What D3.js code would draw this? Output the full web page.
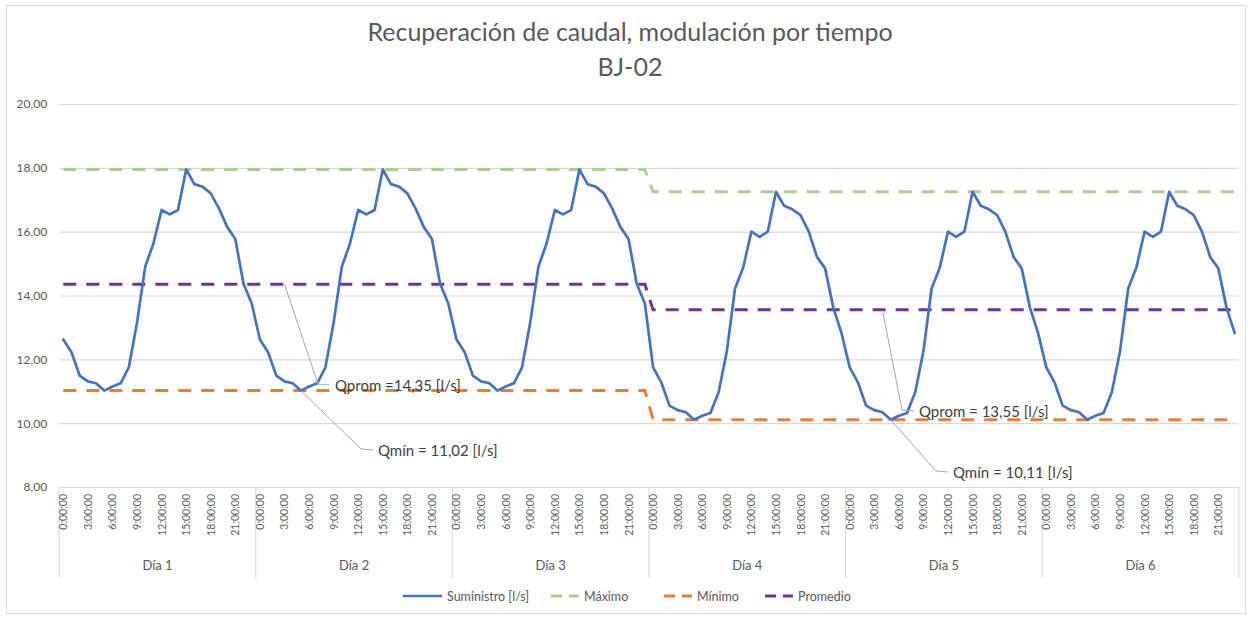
<!DOCTYPE html>
<html>
<head>
<meta charset="utf-8">
<script src="https://cdn.jsdelivr.net/npm/d3@7"></script>
<style>
  html, body { margin: 0; padding: 0; background: #fff; }
  svg { display: block; font-family: Lato, "Open Sans", "Noto Sans", sans-serif; }
</style>
</head>
<body>
<svg id="chart" width="1250" height="617"></svg>
<script>
// ---- Datos ----
const dias = ["Día 1", "Día 2", "Día 3", "Día 4", "Día 5", "Día 6"];
const horas = ["0:00:00", "1:00:00", "2:00:00", "3:00:00", "4:00:00", "5:00:00",
  "6:00:00", "7:00:00", "8:00:00", "9:00:00", "10:00:00", "11:00:00",
  "12:00:00", "13:00:00", "14:00:00", "15:00:00", "16:00:00", "17:00:00",
  "18:00:00", "19:00:00", "20:00:00", "21:00:00", "22:00:00", "23:00:00"];
const horasEtiquetadas = ["0:00:00", "3:00:00", "6:00:00", "9:00:00",
  "12:00:00", "15:00:00", "18:00:00", "21:00:00"];

// Suministro [l/s], un valor por hora
const suministroDia1 = [12.62, 12.22, 11.49, 11.31, 11.25, 11.02, 11.15, 11.25, 11.75, 13.15, 14.90, 15.63,
  16.68, 16.54, 16.68, 17.95, 17.49, 17.41, 17.20, 16.73, 16.15, 15.77, 14.37, 13.75];
const suministroDia2 = [12.62, 12.22, 11.49, 11.31, 11.25, 11.02, 11.15, 11.25, 11.75, 13.15, 14.90, 15.63,
  16.68, 16.54, 16.68, 17.95, 17.49, 17.41, 17.20, 16.73, 16.15, 15.77, 14.37, 13.75];
const suministroDia3 = [12.62, 12.22, 11.49, 11.31, 11.25, 11.02, 11.15, 11.25, 11.75, 13.15, 14.90, 15.63,
  16.68, 16.54, 16.68, 17.95, 17.49, 17.41, 17.20, 16.73, 16.15, 15.77, 14.37, 13.75];
const suministroDia4 = [11.75, 11.28, 10.55, 10.41, 10.34, 10.11, 10.23, 10.32, 10.97, 12.25, 14.22, 14.88,
  16.00, 15.84, 16.00, 17.25, 16.81, 16.70, 16.52, 16.00, 15.21, 14.85, 13.62, 12.82];
const suministroDia5 = [11.75, 11.28, 10.55, 10.41, 10.34, 10.11, 10.23, 10.32, 10.97, 12.25, 14.22, 14.88,
  16.00, 15.84, 16.00, 17.25, 16.81, 16.70, 16.52, 16.00, 15.21, 14.85, 13.62, 12.82];
const suministroDia6 = [11.75, 11.28, 10.55, 10.41, 10.34, 10.11, 10.23, 10.32, 10.97, 12.25, 14.22, 14.88,
  16.00, 15.84, 16.00, 17.25, 16.81, 16.70, 16.52, 16.00, 15.21, 14.85, 13.62, 12.82];

// Valores de referencia por día
const maximoPorDia   = [17.95, 17.95, 17.95, 17.25, 17.25, 17.25];
const minimoPorDia   = [11.02, 11.02, 11.02, 10.11, 10.11, 10.11];
const promedioPorDia = [14.35, 14.35, 14.35, 13.55, 13.55, 13.55];

const valoresEjeY = [8, 10, 12, 14, 16, 18, 20];

const nombresSeries = ["Suministro [l/s]", "Máximo", "Mínimo", "Promedio"];

// Rótulos: serie, índice horario del punto señalado y texto
const rotulos = [
  { serie: "promedio", indice: 27,  texto: "Qprom =14,35 [l/s]" },
  { serie: "minimo",   indice: 29,  texto: "Qmín = 11,02 [l/s]" },
  { serie: "promedio", indice: 100, texto: "Qprom = 13,55 [l/s]" },
  { serie: "minimo",   indice: 101, texto: "Qmín = 10,11 [l/s]" }
];

// ---- Diseño ----
const W = 1250, H = 617;
const plot = { left: 59.2, right: 1238.8, top: 104, bottom: 487 };
const ejeCatFondo = 578;
const colores = { suministro: "#4472C4", maximo: "#A9D18E", minimo: "#ED7D31", promedio: "#7030A0" };
const gris = "#D9D9D9", texto = "#595959";
const posRotulos = [[335, 385], [378, 450], [919, 411], [953, 472]];
const legendaX = [403, 551, 664, 765];
const legendaY = 596;

const suministroPorDia = [suministroDia1, suministroDia2, suministroDia3, suministroDia4, suministroDia5, suministroDia6];
const filas = [];
dias.forEach((dia, d) => {
  horas.forEach((hora, h) => {
    filas.push({
      i: d * horas.length + h, dia, hora,
      suministro: suministroPorDia[d][h],
      maximo: maximoPorDia[d],
      minimo: minimoPorDia[d],
      promedio: promedioPorDia[d]
    });
  });
});

const svg = d3.select("#chart");
svg.append("rect").attr("x", 0).attr("y", 0).attr("width", W).attr("height", H).attr("fill", "#fff");
svg.append("rect").attr("x", 6.5).attr("y", 5.5).attr("width", W - 11).attr("height", H - 9)
  .attr("fill", "none").attr("stroke", gris).attr("stroke-width", 1);

const x = d3.scaleBand().domain(filas.map(f => f.i)).range([plot.left, plot.right]).padding(0);
const cx = i => x(i) + x.bandwidth() / 2;
const y = d3.scaleLinear().domain([8, 20]).range([plot.bottom, plot.top]);

const loc = d3.formatLocale({ decimal: ",", thousands: ".", grouping: [3], currency: ["", "€"] });
const fmt = loc.format(".2f");

// Título
const titulo = svg.append("text").attr("x", 630).attr("text-anchor", "middle")
  .attr("fill", texto).attr("font-size", 25);
titulo.append("tspan").attr("x", 630).attr("y", 41).text("Recuperación de caudal, modulación por tiempo");
titulo.append("tspan").attr("x", 630).attr("y", 76).text("BJ-02");

// Eje Y con líneas de cuadrícula
const ejeY = d3.axisLeft(y).tickValues(valoresEjeY).tickFormat(fmt)
  .tickSize(-(plot.right - plot.left)).tickPadding(12);
const gY = svg.append("g").attr("transform", `translate(${plot.left},0)`).call(ejeY);
gY.select(".domain").remove();
gY.selectAll(".tick line").attr("stroke", gris).attr("stroke-width", 1.2);
gY.selectAll(".tick text").attr("fill", texto).attr("font-size", 12).attr("font-family", "Lato, sans-serif");

// Eje de categorías en dos niveles
const gX = svg.append("g");
const limitesDia = d3.range(dias.length + 1).map(d => d === dias.length ? plot.right : x(d * horas.length));
gX.selectAll("line.div").data(limitesDia).join("line")
  .attr("x1", d => d).attr("x2", d => d)
  .attr("y1", plot.bottom).attr("y2", ejeCatFondo)
  .attr("stroke", gris).attr("stroke-width", 1.2);

gX.selectAll("text.hora").data(filas.filter(f => horasEtiquetadas.includes(f.hora))).join("text")
  .attr("class", "hora")
  .attr("transform", f => `translate(${cx(f.i)},${plot.bottom + 7}) rotate(-90)`)
  .attr("text-anchor", "end").attr("dominant-baseline", "central")
  .attr("fill", texto).attr("font-size", 10.5)
  .text(f => f.hora);

gX.selectAll("text.dia").data(dias).join("text")
  .attr("class", "dia")
  .attr("x", (d, k) => (limitesDia[k] + limitesDia[k + 1]) / 2)
  .attr("y", 570)
  .attr("text-anchor", "middle").attr("fill", texto).attr("font-size", 13)
  .text(d => d);

// Series
const linea = campo => d3.line().x(f => cx(f.i)).y(f => y(f[campo]));
const dash = "13,10";
["maximo", "minimo", "promedio"].forEach(campo => {
  svg.append("path").datum(filas)
    .attr("d", linea(campo))
    .attr("fill", "none").attr("stroke", colores[campo])
    .attr("stroke-width", 3).attr("stroke-dasharray", dash);
});
svg.append("path").datum(filas)
  .attr("d", linea("suministro"))
  .attr("fill", "none").attr("stroke", colores.suministro)
  .attr("stroke-width", 2.7).attr("stroke-linejoin", "round").attr("stroke-linecap", "round");

// Rótulos con líneas guía
rotulos.forEach((r, k) => {
  const f = filas[r.indice];
  const px = cx(f.i), py = y(f[r.serie]);
  const [lx, ly] = posRotulos[k];
  svg.append("polyline")
    .attr("points", `${px},${py} ${lx - 17},${ly - 1} ${lx - 5},${ly}`)
    .attr("fill", "none").attr("stroke", "#A6A6A6").attr("stroke-width", 1);
  svg.append("text").attr("x", lx).attr("y", ly).attr("dominant-baseline", "central")
    .attr("fill", "#404040").attr("font-size", 15).text(r.texto);
});

// Leyenda
const claves = ["suministro", "maximo", "minimo", "promedio"];
claves.forEach((c, k) => {
  const g = svg.append("g").attr("transform", `translate(${legendaX[k]},${legendaY})`);
  const largo = c === "suministro" ? 39 : 28;
  g.append("line").attr("x1", 0).attr("x2", largo).attr("y1", 0).attr("y2", 0)
    .attr("stroke", colores[c]).attr("stroke-width", c === "suministro" ? 2.7 : 3)
    .attr("stroke-dasharray", c === "suministro" ? null : "11,7");
  g.append("text").attr("x", largo + 5).attr("y", 0).attr("dominant-baseline", "central")
    .attr("fill", texto).attr("font-size", 12.5).text(nombresSeries[k]);
});
</script>
</body>
</html>
